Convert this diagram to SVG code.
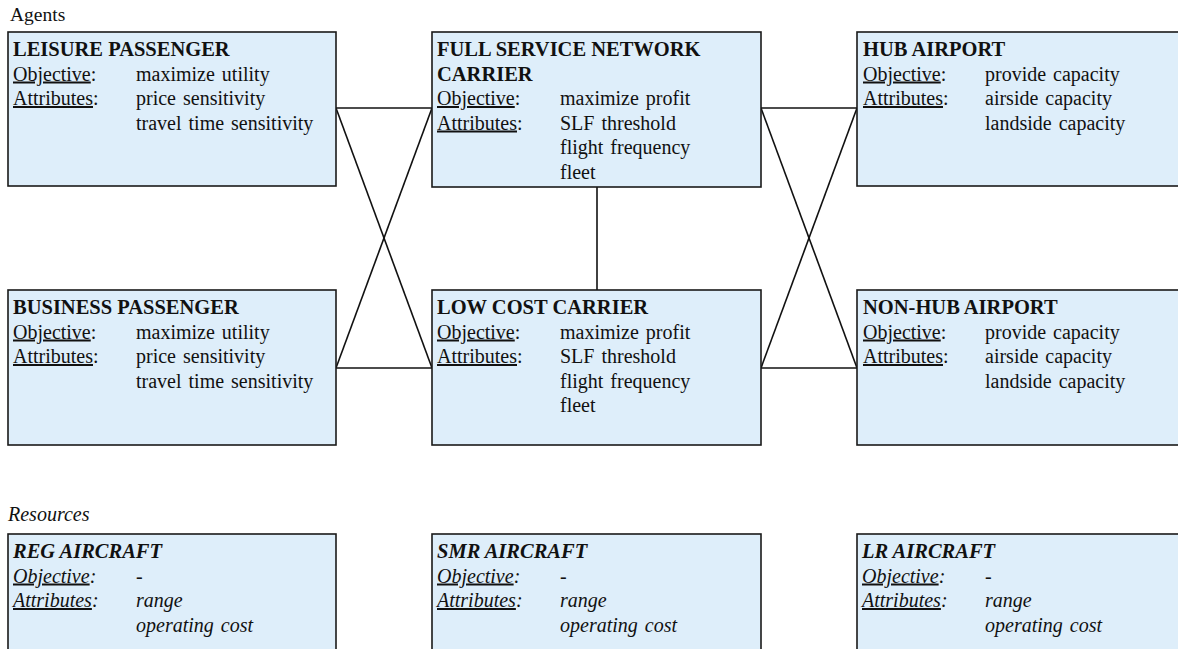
<svg xmlns="http://www.w3.org/2000/svg" width="1178" height="649" viewBox="0 0 1178 649">
  <style>
    .box { fill: #DEEEFA; stroke: #1a1a1a; stroke-width: 1.6; }
    .t { font-family: 'Liberation Serif', 'Times New Roman', serif; font-size: 20px; fill: #111; }
    .b { font-weight: bold; font-size: 20.5px; }
    .i { font-style: italic; }
    .v { word-spacing: 2px; }
    .u { text-decoration: underline; }
    .link { stroke: #111; stroke-width: 1.6; fill: none; }
  </style>
  <rect width="1178" height="649" fill="#ffffff"/>

  <text class="t" x="10" y="21" style="font-size:19.5px">Agents</text>
  <text class="t i" x="8" y="521">Resources</text>

  <!-- connectors between agents -->
  <g id="connectors">
    <line class="link" x1="336" y1="108" x2="432" y2="108"/>
    <line class="link" x1="336" y1="368" x2="432" y2="368"/>
    <line class="link" x1="336" y1="108" x2="432" y2="368"/>
    <line class="link" x1="336" y1="368" x2="432" y2="108"/>
    <line class="link" x1="761" y1="108" x2="857" y2="108"/>
    <line class="link" x1="761" y1="368" x2="857" y2="368"/>
    <line class="link" x1="761" y1="108" x2="857" y2="368"/>
    <line class="link" x1="761" y1="368" x2="857" y2="108"/>
    <line class="link" x1="597" y1="187" x2="597" y2="290"/>
  </g>

  <g id="leisure-passenger">
    <rect class="box" x="8" y="32" width="328" height="154"/>
    <text class="t b" x="13" y="56">LEISURE PASSENGER</text>
    <text class="t" x="13" y="80.5"><tspan class="u">Objective</tspan>:</text>
    <text class="t v" x="136" y="80.5">maximize utility</text>
    <text class="t" x="13" y="105"><tspan class="u">Attributes</tspan>:</text>
    <text class="t v" x="136" y="105">price sensitivity</text>
    <text class="t v" x="136" y="129.5">travel time sensitivity</text>
  </g>

  <g id="full-service-network-carrier">
    <rect class="box" x="432" y="32" width="329" height="155"/>
    <text class="t b" x="437" y="56">FULL SERVICE NETWORK</text>
    <text class="t b" x="437" y="80.5">CARRIER</text>
    <text class="t" x="437" y="105"><tspan class="u">Objective</tspan>:</text>
    <text class="t v" x="560" y="105">maximize profit</text>
    <text class="t" x="437" y="129.5"><tspan class="u">Attributes</tspan>:</text>
    <text class="t v" x="560" y="129.5">SLF threshold</text>
    <text class="t v" x="560" y="154">flight frequency</text>
    <text class="t v" x="560" y="178.5">fleet</text>
  </g>

  <g id="hub-airport">
    <rect class="box" x="857" y="32" width="340" height="154"/>
    <text class="t b" x="863" y="56">HUB AIRPORT</text>
    <text class="t" x="863" y="80.5"><tspan class="u">Objective</tspan>:</text>
    <text class="t v" x="985" y="80.5">provide capacity</text>
    <text class="t" x="863" y="105"><tspan class="u">Attributes</tspan>:</text>
    <text class="t v" x="985" y="105">airside capacity</text>
    <text class="t v" x="985" y="129.5">landside capacity</text>
  </g>

  <g id="business-passenger">
    <rect class="box" x="8" y="290" width="328" height="155"/>
    <text class="t b" x="13" y="314">BUSINESS PASSENGER</text>
    <text class="t" x="13" y="338.5"><tspan class="u">Objective</tspan>:</text>
    <text class="t v" x="136" y="338.5">maximize utility</text>
    <text class="t" x="13" y="363"><tspan class="u">Attributes</tspan>:</text>
    <text class="t v" x="136" y="363">price sensitivity</text>
    <text class="t v" x="136" y="387.5">travel time sensitivity</text>
  </g>

  <g id="low-cost-carrier">
    <rect class="box" x="432" y="290" width="329" height="155"/>
    <text class="t b" x="437" y="314">LOW COST CARRIER</text>
    <text class="t" x="437" y="338.5"><tspan class="u">Objective</tspan>:</text>
    <text class="t v" x="560" y="338.5">maximize profit</text>
    <text class="t" x="437" y="363"><tspan class="u">Attributes</tspan>:</text>
    <text class="t v" x="560" y="363">SLF threshold</text>
    <text class="t v" x="560" y="387.5">flight frequency</text>
    <text class="t v" x="560" y="412">fleet</text>
  </g>

  <g id="non-hub-airport">
    <rect class="box" x="857" y="290" width="340" height="155"/>
    <text class="t b" x="863" y="314">NON-HUB AIRPORT</text>
    <text class="t" x="863" y="338.5"><tspan class="u">Objective</tspan>:</text>
    <text class="t v" x="985" y="338.5">provide capacity</text>
    <text class="t" x="863" y="363"><tspan class="u">Attributes</tspan>:</text>
    <text class="t v" x="985" y="363">airside capacity</text>
    <text class="t v" x="985" y="387.5">landside capacity</text>
  </g>

  <g id="reg-aircraft">
    <rect class="box" x="8" y="534" width="328" height="140"/>
    <text class="t b i" x="13" y="558">REG AIRCRAFT</text>
    <text class="t i" x="13" y="582.5"><tspan class="u">Objective</tspan>:</text>
    <text class="t i" x="136" y="582.5">-</text>
    <text class="t i" x="13" y="607"><tspan class="u">Attributes</tspan>:</text>
    <text class="t i" x="136" y="607">range</text>
    <text class="t i v" x="136" y="631.5">operating cost</text>
  </g>

  <g id="smr-aircraft">
    <rect class="box" x="432" y="534" width="329" height="140"/>
    <text class="t b i" x="437" y="558">SMR AIRCRAFT</text>
    <text class="t i" x="437" y="582.5"><tspan class="u">Objective</tspan>:</text>
    <text class="t i" x="560" y="582.5">-</text>
    <text class="t i" x="437" y="607"><tspan class="u">Attributes</tspan>:</text>
    <text class="t i" x="560" y="607">range</text>
    <text class="t i v" x="560" y="631.5">operating cost</text>
  </g>

  <g id="lr-aircraft">
    <rect class="box" x="857" y="534" width="340" height="140"/>
    <text class="t b i" x="862" y="558">LR AIRCRAFT</text>
    <text class="t i" x="862" y="582.5"><tspan class="u">Objective</tspan>:</text>
    <text class="t i" x="985" y="582.5">-</text>
    <text class="t i" x="862" y="607"><tspan class="u">Attributes</tspan>:</text>
    <text class="t i" x="985" y="607">range</text>
    <text class="t i v" x="985" y="631.5">operating cost</text>
  </g>
</svg>
